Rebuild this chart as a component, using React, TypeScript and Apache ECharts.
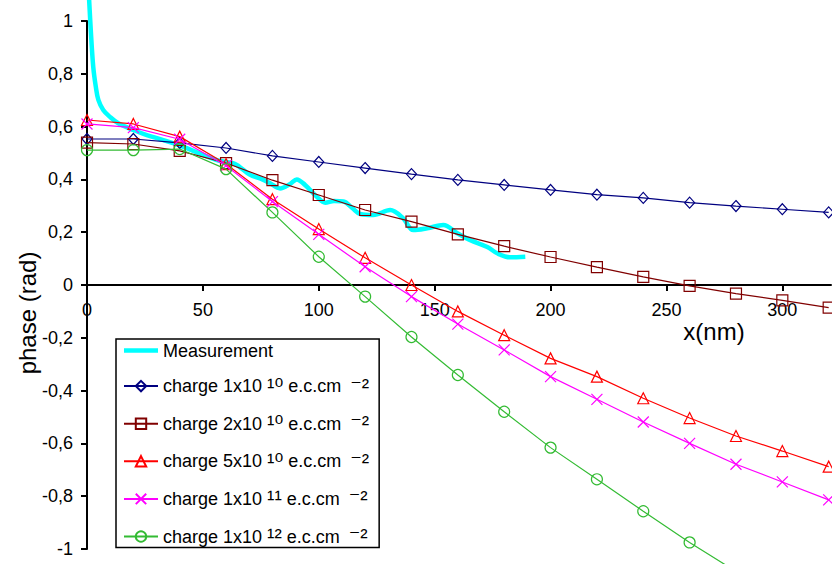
import React, { useEffect, useRef } from "react";
import * as echarts from "echarts";

// x positions (nm) of the simulated curves
const xs = [0, 20, 40, 60, 80, 100, 120, 140, 160, 180, 200, 220, 240, 260, 280, 300, 320];

const charge1e10 = [0.553, 0.553, 0.538, 0.519, 0.489, 0.466, 0.443, 0.42, 0.398, 0.379, 0.36, 0.342, 0.33, 0.312, 0.299, 0.287, 0.275];
const charge2e10 = [0.539, 0.534, 0.508, 0.462, 0.397, 0.341, 0.284, 0.24, 0.192, 0.147, 0.106, 0.068, 0.031, -0.003, -0.033, -0.058, -0.086];
const charge5e10 = [0.625, 0.61, 0.562, 0.458, 0.325, 0.212, 0.103, 0.0, -0.1, -0.19, -0.278, -0.347, -0.429, -0.504, -0.572, -0.629, -0.688];
const charge1e11 = [0.61, 0.596, 0.552, 0.452, 0.316, 0.192, 0.069, -0.044, -0.148, -0.246, -0.347, -0.433, -0.519, -0.6, -0.679, -0.746, -0.814];
const charge1e12 = [0.511, 0.511, 0.515, 0.439, 0.275, 0.107, -0.044, -0.197, -0.341, -0.48, -0.616, -0.736, -0.857, -0.975, -1.085, -1.19, -1.29];

// measured phase profile
const measX = [0.8, 1.7, 2.7, 3.8, 4.9, 7.0, 9.9, 13.5, 20.0, 25.8, 32.9, 40.2, 56.0, 63.7, 70.4, 74.7, 79.0, 83.3, 87.7, 90.5, 94.1, 99.2, 102.8, 106.6, 110.7, 114.4, 117.9, 123.5, 130.8, 136.4, 140.8, 146.8, 153.7, 159.8, 165.4, 172.7, 177.0, 182.6, 189.1];
const measY = [1.1, 0.955, 0.826, 0.751, 0.701, 0.663, 0.637, 0.6125, 0.587, 0.568, 0.549, 0.528, 0.473, 0.459, 0.417, 0.404, 0.385, 0.366, 0.383, 0.4, 0.379, 0.334, 0.312, 0.318, 0.316, 0.292, 0.269, 0.265, 0.284, 0.253, 0.208, 0.215, 0.227, 0.196, 0.17, 0.144, 0.12, 0.105, 0.107];

const xTicks = [0, 50, 100, 150, 200, 250, 300];

const seriesNames = [
  "Measurement",
  "charge 1x10^10",
  "charge 2x10^10",
  "charge 5x10^10",
  "charge 1x10^11",
  "charge 1x10^12",
];
const exponents = ["", "¹⁰", "¹⁰", "¹⁰", "¹¹", "¹²"];
const mantissas = ["", "1", "2", "5", "1", "1"];
const unitExponent = "⁻²";

const FONT = '"Liberation Sans", Arial, sans-serif';
const SUPFONT = '"Liberation Sans", "DejaVu Sans", Arial, sans-serif';

function pairs(x: number[], y: number[]) {
  return x.map((v, i) => [v, y[i]]);
}

export default function App() {
  const ref = useRef<HTMLDivElement>(null);
  useEffect(() => {
    if (!ref.current) return;
    const chart = echarts.init(ref.current, undefined, { renderer: "svg" });

    const mk = (
      idx: number,
      data: number[],
      color: string,
      symbol: string,
      size: number | number[]
    ) => ({
      type: "line",
      name: seriesNames[idx],
      data: pairs(xs, data),
      symbol,
      symbolSize: size,
      showSymbol: true,
      clip: false,
      lineStyle: { color, width: 1.2 },
      itemStyle: { color: "rgba(0,0,0,0)", borderColor: color, borderWidth: 1.2 },
      emphasis: { disabled: true },
      z: 3 + idx,
    });

    const option: any = {
      animation: false,
      backgroundColor: "#fff",
      textStyle: { fontFamily: FONT, color: "#000" },
      grid: { left: 87, right: 1, top: 21, bottom: 15, containLabel: false, outerBoundsMode: "none" },
      xAxis: {
        type: "value",
        min: 0,
        max: 321,
        interval: 50,
        position: "bottom",
        offset: -264,
        axisLine: { onZero: false, lineStyle: { color: "#000", width: 2 } },
        axisTick: { show: true, length: 6, lineStyle: { color: "#000", width: 2 }, customValues: xTicks },
        axisLabel: { color: "#000", fontSize: 18, fontFamily: FONT, margin: 16, customValues: xTicks },
        splitLine: { show: false },
      },
      yAxis: {
        type: "value",
        min: -1,
        max: 1,
        interval: 0.2,
        axisLine: { show: true, onZero: false, lineStyle: { color: "#000", width: 2 } },
        axisTick: { show: true, length: 6, lineStyle: { color: "#000", width: 2 } },
        axisLabel: {
          color: "#000",
          fontSize: 18,
          fontFamily: FONT,
          margin: 14,
          formatter: (v: number) => String(Math.round(v * 10) / 10).replace(".", ","),
        },
        splitLine: { show: false },
      },
      legend: {
        orient: "vertical",
        left: 116,
        top: 339,
        itemWidth: 34,
        itemHeight: 13,
        itemGap: 15.6,
        padding: [2.5, 10, 0, 7],
        borderColor: "#000",
        borderWidth: 1.5,
        backgroundColor: "#fff",
        selectedMode: false,
        data: seriesNames.map((n, i) =>
          i === 0 ? { name: n, icon: "path://M0,0L34,0L34,4.5L0,4.5Z", itemStyle: { color: "#00FFFF" } } : { name: n }
        ),
        formatter: (name: string) => {
          const i = seriesNames.indexOf(name);
          if (i === 0) return "{n|Measurement}";
          return `{n|charge ${mantissas[i]}x10 }{u|${exponents[i]}}{n| e.c.cm}{w|${unitExponent}}`;
        },
        textStyle: {
          color: "#000",
          fontFamily: FONT,
          fontSize: 18,
          rich: {
            n: { fontSize: 18, lineHeight: 24, fontFamily: FONT, color: "#000" },
            u: { fontSize: 22, lineHeight: 24, fontFamily: SUPFONT, color: "#000" },
            w: { fontSize: 22, lineHeight: 24, padding: [0, 0, 0, 9], fontFamily: SUPFONT, color: "#000" },
          },
        },
      },
      graphic: [
        {
          type: "text",
          x: 27,
          y: 313,
          rotation: Math.PI / 2,
          style: {
            text: "phase (rad)",
            fontSize: 24,
            fontFamily: FONT,
            fill: "#000",
            align: "center",
            verticalAlign: "middle",
          },
        },
        {
          type: "text",
          x: 714,
          y: 331,
          style: {
            text: "x(nm)",
            fontSize: 24,
            fontFamily: FONT,
            fill: "#000",
            align: "center",
            verticalAlign: "middle",
          },
        },
      ],
      series: [
        {
          type: "line",
          name: seriesNames[0],
          data: pairs(measX, measY),
          symbol: "none",
          smooth: 0.35,
          clip: false,
          lineStyle: { color: "#00FFFF", width: 4.5 },
          itemStyle: { color: "#00FFFF" },
          emphasis: { disabled: true },
          z: 2,
        },
        mk(1, charge1e10, "#000080", "diamond", [10, 11]),
        mk(2, charge2e10, "#800000", "rect", 11),
        mk(3, charge5e10, "#FF0000", "triangle", 11),
        mk(4, charge1e11, "#FF00FF", "path://M0,0L10,10M10,0L0,10", 11),
        mk(5, charge1e12, "#33BB33", "circle", 11),
      ],
    };
    chart.setOption(option);
    return () => chart.dispose();
  }, []);
  return (
    <div
      ref={ref}
      style={{ position: "fixed", left: 0, top: 0, width: 832, height: 564, background: "#fff" }}
    />
  );
}
